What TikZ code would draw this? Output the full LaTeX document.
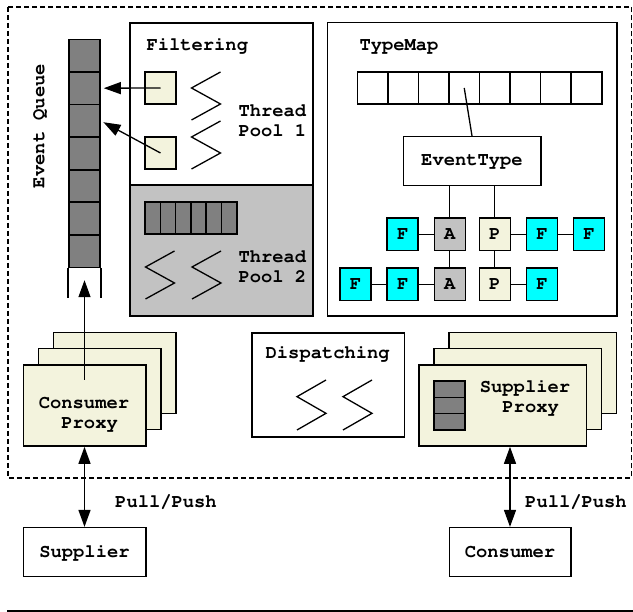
\documentclass[tikz,border=0pt]{standalone}
\usepackage[T1]{fontenc}
\usepackage{courier}
\usepackage{xcolor}
\usepackage{tikz}
\usetikzlibrary{positioning, calc, arrows.meta}

\definecolor{queuegray}{gray}{0.5}
\definecolor{poolgray}{gray}{0.76}
\definecolor{proxybeige}{RGB}{243,243,221}
\definecolor{filtercyan}{RGB}{0,255,255}

% one thread drawn as a zigzag, #1 = top left corner, #2 = height
\newcommand{\threadline}[2]{\draw[thread] #1 ++(29,0) -- ++(-29,#2/3) -- ++(29,#2/3) -- ++(-29,#2/3);}

\begin{document}
\begin{tikzpicture}[x=1pt, y=-1pt, node distance=14.5pt,
        font=\ttfamily\bfseries\fontsize{18.8}{20}\selectfont]
        % Define block styles
        \tikzstyle{box} = [rectangle, draw, line width=1.6pt, inner sep=0pt]
        \tikzstyle{cell} = [rectangle, draw, line width=1.6pt, inner sep=0pt, minimum width=31pt, minimum height=32.4pt]
        \tikzstyle{qcell} = [cell, fill=queuegray]
        \tikzstyle{thread} = [line width=1.3pt]
        \tikzstyle{link} = [line width=1.3pt]
        \tikzstyle{arrow} = [-{Triangle[length=17pt, width=12pt]}, line width=1.3pt]
        \tikzstyle{dblarrow} = [{Triangle[length=17pt, width=12pt]}-{Triangle[length=17pt, width=12pt]}, line width=1.3pt]

        \useasboundingbox (0,0) rectangle (633,612);

        % Event channel border
        \draw[line width=1.8pt, dash pattern=on 5pt off 3pt] (8,7) rectangle (631.5,478);
        \draw[line width=2.2pt] (7,611) -- (633,611);

        % Event queue
        \foreach \i in {0,...,6}
            \node [qcell] (eq\i) at (84.5, 55.6+\i*32.6) {};
        \draw[link, line width=1.6pt] (eq6.south west) -- ++(0,30.3);
        \draw[link, line width=1.6pt] (eq6.south east) -- ++(0,30.3);
        \node [rotate=90] (eqlabel) at (40,126) {Event Queue};

        % Filtering and thread pool 2
        \node [box, minimum width=183pt, minimum height=162pt] (filtering) at (221.5,104) {};
        \node [box, fill=poolgray, minimum width=183pt, minimum height=131pt] (pool2) at (221.5,250.5) {};
        \node [anchor=west] (filterlabel) at (143,46) {Filtering};
        \node [cell, fill=proxybeige] (flt1) at (160.5,88) {};
        \node [cell, fill=proxybeige] (flt2) at (160.5,153) {};
        \node [anchor=west, align=left] (pool1label) at (235,121) {Thread\\Pool 1};
        \node [anchor=west, align=left] (pool2label) at (235,267) {Thread\\Pool 2};
        \foreach \i in {0,...,5}
            \node [qcell, minimum width=15.3pt] (pq\i) at (152.65+\i*15.3, 218) {};
        \threadline{(191.5,72)}{48}
        \threadline{(191.5,121)}{48}
        \threadline{(145.5,251)}{48}
        \threadline{(192,251)}{48}

        % TypeMap
        \node [box, minimum width=289.4pt, minimum height=293.3pt] (typemap) at (472,169.3) {};
        \node [anchor=west] (typemaplabel) at (356,47) {TypeMap};
        \foreach \i in {0,...,7}
            \node [cell, minimum width=30.55pt] (tm\i) at (372.6+\i*30.55, 88) {};
        \node [box, minimum width=137.4pt, minimum height=49pt] (evtype) at (472,161.2) {EventType};

        % Filter chains
        \node [cell, fill=poolgray] (a1) at (449.8,234.5) {A};
        \node [cell, fill=filtercyan, left=of a1] (f1) {F};
        \node [cell, fill=proxybeige] (p1) at (494.8,234.5) {P};
        \node [cell, fill=filtercyan, right=of p1] (f2) {F};
        \node [cell, fill=filtercyan, right=of f2] (f3) {F};
        \node [cell, fill=poolgray, below=16pt of a1] (a2) {A};
        \node [cell, fill=filtercyan, left=of a2] (f4) {F};
        \node [cell, fill=filtercyan, left=of f4] (f5) {F};
        \node [cell, fill=proxybeige, below=16pt of p1] (p2) {P};
        \node [cell, fill=filtercyan, right=of p2] (f6) {F};

        % Dispatching
        \node [box, minimum width=152.6pt, minimum height=104pt] (dispatching) at (328,385.3) {};
        \node (displabel) at (327.7,354) {Dispatching};
        \threadline{(297,380)}{50}
        \threadline{(343,380)}{50}

        % Proxy stacks
        \foreach \k/\dx/\dy in {2/30/-32.6, 1/15/-16.3, 0/0/0} {
            \node [box, fill=proxybeige, minimum width=122.4pt, minimum height=81pt] (cp\k) at (84.5+\dx, 405.5+\dy) {};
            \node [box, fill=proxybeige, minimum width=167.7pt, minimum height=81pt] (sp\k) at (502.8+\dx, 405.5+\dy) {};
        }
        \node [align=center] (cplabel) at (84,414) {Consumer\\~Proxy};
        \node [align=center] (splabel) at (525,398) {Supplier\\~Proxy};
        \foreach \i in {0,...,2}
            \node [qcell, minimum height=16.3pt] (sq\i) at (449.5, 389.2+\i*16.3) {};
        \coordinate (cpin) at (84.5,380);

        % Supplier and consumer
        \node [box, minimum width=122.4pt, minimum height=49pt] (supplier) at (84.5,552.2) {Supplier};
        \node [box, minimum width=121.4pt, minimum height=49pt] (consumer) at (510,552.2) {Consumer};

        % Draw connections as arrows
        \draw [arrow, shorten >=3pt] (flt1.center) -- (eq1.east);
        \draw [arrow, shorten >=3pt] (flt2.center) -- (eq2.east);
        \draw [arrow, shorten >=12pt] (cpin) -- (eq6.south);
        \draw [link] (tm3.center) -- (evtype.north);
        \draw [link] (evtype.south -| a1.north) -- (a1.north);
        \draw [link] (evtype.south -| p1.north) -- (p1.north);
        \draw [link] (f1) -- (a1);
        \draw [link] (p1) -- (f2);
        \draw [link] (f2) -- (f3);
        \draw [link] (a1) -- (a2);
        \draw [link] (p1) -- (p2);
        \draw [link] (f5) -- (f4);
        \draw [link] (f4) -- (a2);
        \draw [link] (p2) -- (f6);
        \draw [dblarrow] (cp0.south) -- (supplier.north);
        \draw [dblarrow] (consumer.north |- sp0.south) -- (consumer.north);

        % Add text on the arrows
        \node (pullleft) at (166,502) {Pull/Push};
        \node (pullright) at (576,502) {Pull/Push};
    \end{tikzpicture}
\end{document}
